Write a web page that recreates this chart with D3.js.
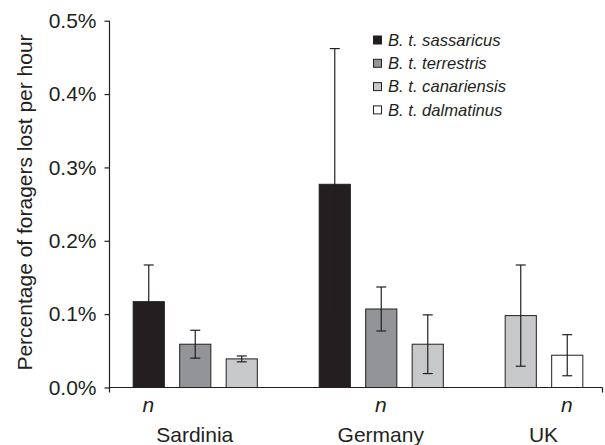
<!DOCTYPE html>
<html>
<head>
<meta charset="utf-8">
<script src="https://cdn.jsdelivr.net/npm/d3@7"></script>
<style>
  html, body { margin: 0; padding: 0; background: #fff; }
  svg { display: block; }
  text { font-family: "Liberation Sans", Arial, sans-serif; fill: #231f20; }
</style>
</head>
<body>
<svg id="chart" width="605" height="445"></svg>
<script>
// ---- data ----
const groups = ["Sardinia", "Germany", "UK"];
const species = ["B. t. sassaricus", "B. t. terrestris", "B. t. canariensis", "B. t. dalmatinus"];
const speciesColors = ["#231f20", "#929497", "#c7c8ca", "#ffffff"];
const barGroup   = ["Sardinia", "Sardinia", "Sardinia", "Germany", "Germany", "Germany", "UK", "UK"];
const barSpecies = ["B. t. sassaricus", "B. t. terrestris", "B. t. canariensis",
                    "B. t. sassaricus", "B. t. terrestris", "B. t. canariensis",
                    "B. t. canariensis", "B. t. dalmatinus"];
const barValue   = [0.117, 0.059, 0.039, 0.277, 0.107, 0.059, 0.098, 0.044];
const barError   = [0.050, 0.019, 0.004, 0.185, 0.030, 0.040, 0.069, 0.028];
const nLabelBar  = [0, 1, 1];   // which bar within each group carries the "n" label
const yTicks     = [0, 0.1, 0.2, 0.3, 0.4, 0.5];
const yTitle     = "Percentage of foragers lost per hour";

// ---- build slots (bars + one spacer between groups) ----
const bars = barValue.map((v, i) => ({ group: barGroup[i], species: barSpecies[i], value: v, err: barError[i] }));
const slots = [];
groups.forEach((g, gi) => {
  bars.filter(b => b.group === g).forEach((b, j) => { b.slot = g + "|" + j; slots.push(b.slot); });
  if (gi < groups.length - 1) slots.push("gap" + gi);
});

const svg = d3.select("#chart");
const axisColor = "#231f20";
const xLeft = 109.5, xRight = 602.5;

const x = d3.scaleBand().domain(slots).range([125, 590]).paddingInner(0.33).paddingOuter(0.165);
const y = d3.scaleLinear().domain([0, 0.5]).range([387.5, 20.7]);
const color = d3.scaleOrdinal().domain(species).range(speciesColors);

// ---- bars ----
svg.append("g").selectAll("rect").data(bars).join("rect")
  .attr("x", d => x(d.slot) + 0.5)
  .attr("y", d => y(d.value))
  .attr("width", x.bandwidth())
  .attr("height", d => y(0) - y(d.value))
  .attr("fill", d => color(d.species))
  .attr("stroke", "#231f20")
  .attr("stroke-width", 1);

// ---- error bars ----
const eb = svg.append("g").attr("stroke", "#231f20").attr("stroke-width", 1.2);
bars.forEach(d => {
  const cx = x(d.slot) + x.bandwidth() / 2 + 0.5;
  const cap = 5;
  eb.append("line").attr("x1", cx).attr("x2", cx).attr("y1", y(d.value + d.err)).attr("y2", y(Math.max(0, d.value - d.err)));
  eb.append("line").attr("x1", cx - cap).attr("x2", cx + cap).attr("y1", y(d.value + d.err)).attr("y2", y(d.value + d.err));
  eb.append("line").attr("x1", cx - cap).attr("x2", cx + cap).attr("y1", y(Math.max(0, d.value - d.err))).attr("y2", y(Math.max(0, d.value - d.err)));
});

// ---- y axis ----
const yAxis = svg.append("g").attr("transform", `translate(${xLeft},0)`)
  .call(d3.axisLeft(y).tickValues(yTicks).tickFormat(d => d.toFixed(1) + "%").tickSize(5).tickPadding(8));
yAxis.select(".domain").remove();
yAxis.append("line").attr("x1", 0).attr("x2", 0).attr("y1", y(0.5)).attr("y2", y(0) + 5)
  .attr("stroke", axisColor).attr("stroke-width", 1.2);
yAxis.selectAll(".tick line").attr("stroke", axisColor).attr("stroke-width", 1.2);
yAxis.selectAll(".tick text").attr("fill", axisColor).style("font-size", "21px")
  .style("font-family", "'Liberation Sans', Arial, sans-serif");

// ---- x axis line ----
svg.append("line").attr("x1", xLeft).attr("x2", xRight).attr("y1", y(0)).attr("y2", y(0))
  .attr("stroke", axisColor).attr("stroke-width", 1.2);
svg.append("line").attr("x1", xRight).attr("x2", xRight).attr("y1", y(0)).attr("y2", y(0) + 5)
  .attr("stroke", axisColor).attr("stroke-width", 1.2);

// ---- group labels and n labels ----
groups.forEach((g, gi) => {
  const gb = bars.filter(b => b.group === g);
  const centers = gb.map(b => x(b.slot) + x.bandwidth() / 2);
  const mid = d3.mean(centers);
  svg.append("text").attr("x", mid).attr("y", 441.7).attr("text-anchor", "middle")
    .style("font-size", "21px").text(g);
  svg.append("text").attr("x", centers[nLabelBar[gi]]).attr("y", 412).attr("text-anchor", "middle")
    .style("font-size", "21px").style("font-style", "italic").text("n");
});

// ---- y title ----
svg.append("text").attr("transform", "translate(32,202.5) rotate(-90)")
  .attr("text-anchor", "middle").style("font-size", "21px").text(yTitle);

// ---- legend ----
const leg = svg.append("g");
species.forEach((s, i) => {
  const cy = 40 + i * 23.3;
  leg.append("rect").attr("x", 373.5).attr("y", cy - 4).attr("width", 8).attr("height", 8)
    .attr("fill", color(s)).attr("stroke", "#231f20").attr("stroke-width", 1);
  leg.append("text").attr("x", 388).attr("y", cy + 5.7)
    .style("font-size", "16.6px").style("font-style", "italic").text(s);
});
</script>
</body>
</html>
